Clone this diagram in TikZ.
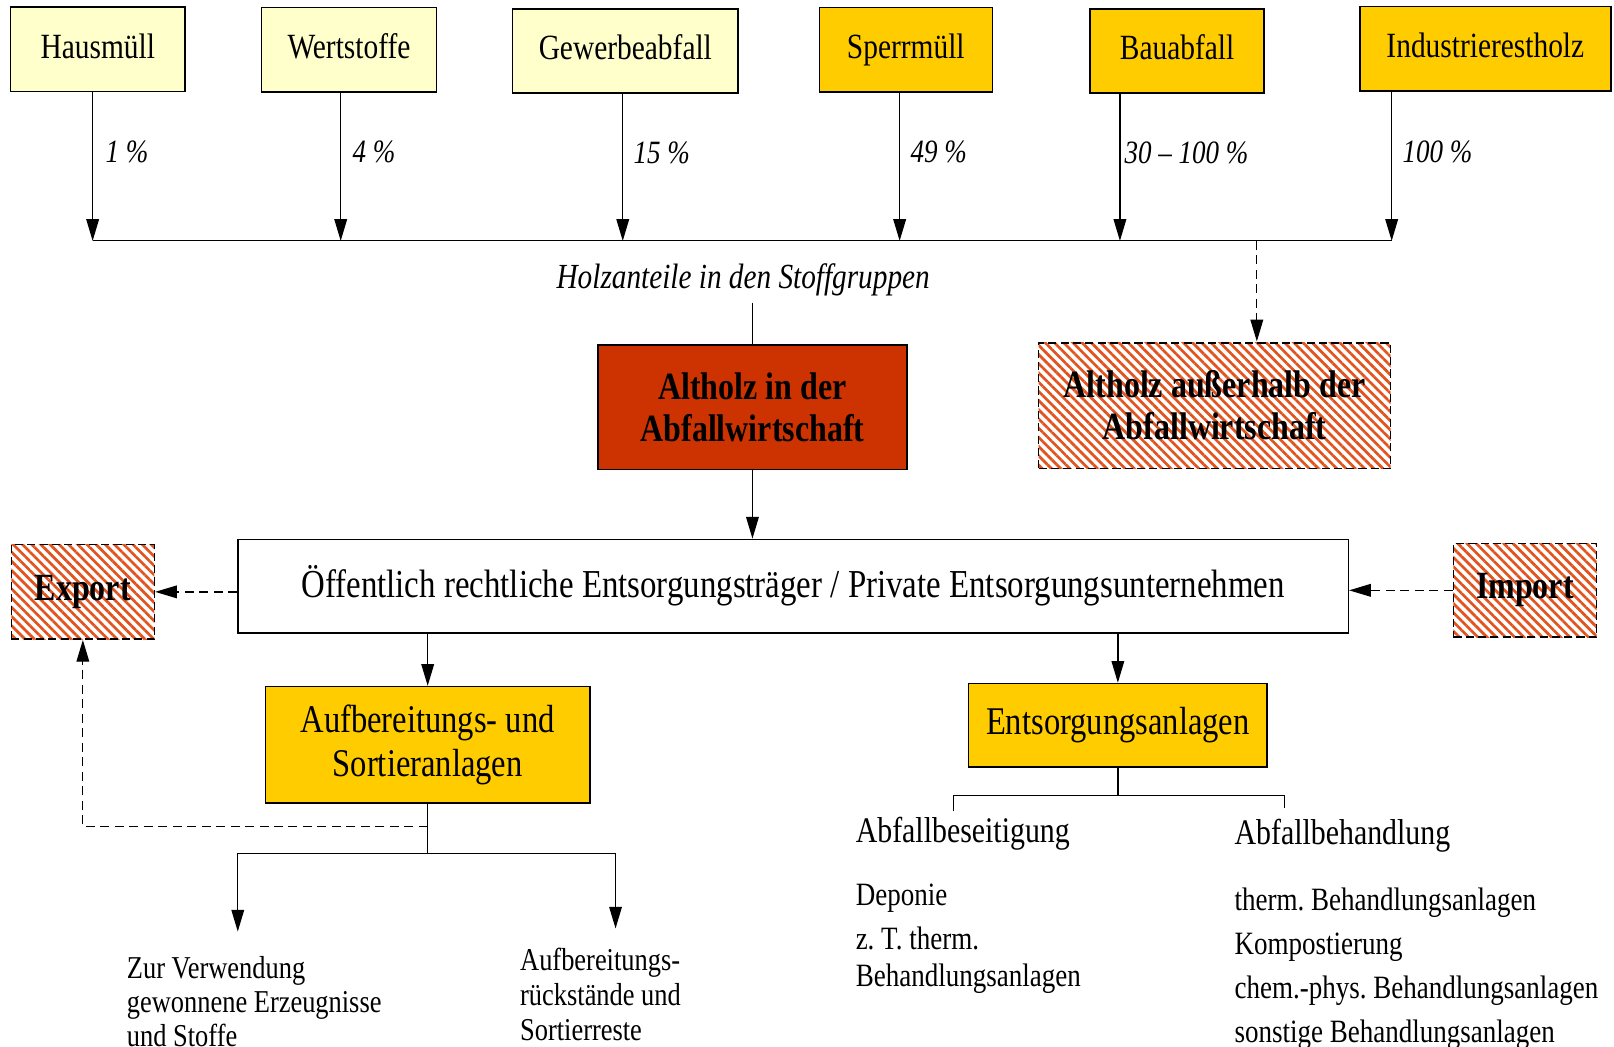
\documentclass[tikz,border=0pt]{standalone}
\usepackage{fontspec}
\setmainfont{Liberation Serif}[FakeStretch=0.83]
\usetikzlibrary{arrows.meta,patterns.meta}
\frenchspacing

\definecolor{paleyellow}{HTML}{FFFFCC}
\definecolor{amber}{HTML}{FFCC00}
\definecolor{rust}{HTML}{CC3300}
\definecolor{hatchred}{HTML}{E2541F}

\newcommand{\fsz}[2]{\fontsize{#1}{#2}\selectfont}

\begin{document}
\begin{tikzpicture}[x=0.02cm, y=-0.02cm,
    box/.style={draw, line width=0.85pt, align=center, inner sep=0pt},
    srcbox/.style={box, fill=paleyellow, minimum height=1.64cm, font=\fsz{19.6}{23},
      text height=14pt, text depth=4.3pt},
    goldsrc/.style={srcbox, fill=amber},
    hatched/.style={box, dash pattern=on 4.5pt off 2.3pt,
      pattern={Lines[angle=-45,distance=3.6pt,line width=1.5pt]}, pattern color=hatchred,
      font=\bfseries\fsz{21.3}{23.2}},
    share/.style={font=\itshape\fsz{18}{20}, anchor=west, inner sep=0pt},
    flow/.style={-{Triangle[length=12pt,width=7pt]}, line width=0.7pt},
    dflow/.style={flow, dash pattern=on 5pt off 3pt},
    plain/.style={font=\fsz{18}{24.4}, align=left, anchor=north west, inner sep=0pt},
  ]
  \useasboundingbox (0,0) rectangle (1568,1017);

  % Stoffgruppen
  \node[srcbox, minimum width=3.4cm] (haus) at (95,48) {Hausmüll};
  \node[srcbox, minimum width=3.4cm] (wert) at (339,48.5) {Wertstoffe};
  \node[srcbox, minimum width=4.38cm] (gew) at (607.5,49.5) {Gewerbeabfall};
  \node[goldsrc, minimum width=3.36cm] (sperr) at (880,48.5) {Sperrmüll};
  \node[goldsrc, minimum width=3.38cm] (bau) at (1143.5,49.5) {Bauabfall};
  \node[goldsrc, minimum width=4.88cm] (ind) at (1443,47.5) {Industrierestholz};

  \foreach \n/\x in {1/90,2/331,3/605,4/874,5/1088,6/1352}
    \coordinate (c\n) at (\x,234);
  \coordinate (c7) at (1221,234);
  \draw[line width=0.7pt] (c1) -- (c6);
  \foreach \s/\n/\p/\d in {haus/1/1/0.24, wert/2/4/0.22, gew/3/15/0.2,
      sperr/4/49/0.2, bau/5/30 -- 100/0.08, ind/6/100/0.2}
    \draw[flow] (\s.south -| c\n) -- node[share, pos=0.4, xshift=\d*1cm] {\p\ \%} (c\n);

  \node[font=\itshape\fsz{19.5}{22}] (holz) at (722,272) {Holzanteile in den Stoffgruppen};

  % Altholz
  \node[box, fill=rust, minimum width=6cm, minimum height=2.42cm,
    font=\bfseries\fsz{21.3}{23.2}] (alt) at (731,395.5) {Altholz in der\\Abfallwirtschaft};
  \node[hatched, minimum width=6.84cm, minimum height=2.44cm] (outside) at (1180,394)
    {Altholz außerhalb der\\Abfallwirtschaft};
  \draw[line width=0.7pt] (holz.south -| alt.north) -- (alt.north);
  \draw[dflow] (c7) -- (c7 |- outside.north);

  % Entsorger
  \node[box, fill=white, minimum width=21.58cm, minimum height=1.82cm, font=\fsz{21.9}{24}]
    (body) at (770.5,569.5) {Öffentlich rechtliche Entsorgungsträger / Private Entsorgungsunternehmen};
  \node[hatched, minimum width=2.78cm, minimum height=1.84cm] (export) at (80.5,575) {Export};
  \node[hatched, minimum width=2.78cm, minimum height=1.82cm] (import) at (1481.5,573.5) {Import};
  \draw[flow] (alt.south) -- (alt.south |- body.north);
  \draw[dflow] (body.west |- export.east) -- (export.east);
  \draw[dflow] (import.west) -- (import.west -| body.east);

  % Anlagen
  \node[box, fill=amber, minimum width=6.3cm, minimum height=2.26cm, font=\fsz{21.7}{24}]
    (sort) at (415.5,723.5) {Aufbereitungs- und\\Sortieranlagen};
  \node[box, fill=amber, minimum width=5.8cm, minimum height=1.62cm, font=\fsz{21.7}{24}]
    (plant) at (1086,704.5) {Entsorgungsanlagen};
  \draw[flow] (body.south -| sort.north) -- (sort.north);
  \draw[flow] (body.south -| plant.north) -- (plant.north);

  % Aufbereitung
  \coordinate (sj) at (sort.south |- 0,803);
  \coordinate (sf) at (sort.south |- 0,829);
  \coordinate (fl) at (231,829);
  \coordinate (fr) at (598,829);
  \draw[line width=0.7pt] (sort.south) -- (sf);
  \draw[line width=0.7pt] (fl) -- (fr);
  \draw[flow] (fl) -- ++(0,76);
  \draw[flow] (fr) -- ++(0,73);
  \draw[dflow] (sj) -| (export.south);
  \node[plain, font=\fsz{17.6}{18.7}] (use) at (123,929)
    {Zur Verwendung\\gewonnene Erzeugnisse\\und Stoffe};
  \node[plain, font=\fsz{17.6}{19.2}] (resid) at (505,921)
    {Aufbereitungs-\\rückstände und\\Sortierreste};

  % Entsorgung
  \coordinate (el) at (926,773);
  \coordinate (er) at (1248,773);
  \draw[line width=0.7pt] (plant.south) -- (plant.south |- el);
  \draw[line width=0.7pt] (el) ++(0,15) -- (el) -- (er) -- ++(0,12);
  \node[font=\fsz{19.9}{22}, anchor=west, inner sep=0pt] (dispose) at (831,810) {Abfallbeseitigung};
  \node[font=\fsz{19.9}{22}, anchor=west, inner sep=0pt] (treat) at (1199,812) {Abfallbehandlung};
  \node[plain, font=\fsz{18}{20.4}] (dlist) at (831,858)
    {Deponie\\[4pt]z. T. therm.\\Behandlungsanlagen};
  \node[plain] (tlist) at (1199,862)
    {therm. Behandlungsanlagen\\Kompostierung\\chem.-phys. Behandlungsanlagen\\sonstige Behandlungsanlagen};
\end{tikzpicture}
\end{document}
